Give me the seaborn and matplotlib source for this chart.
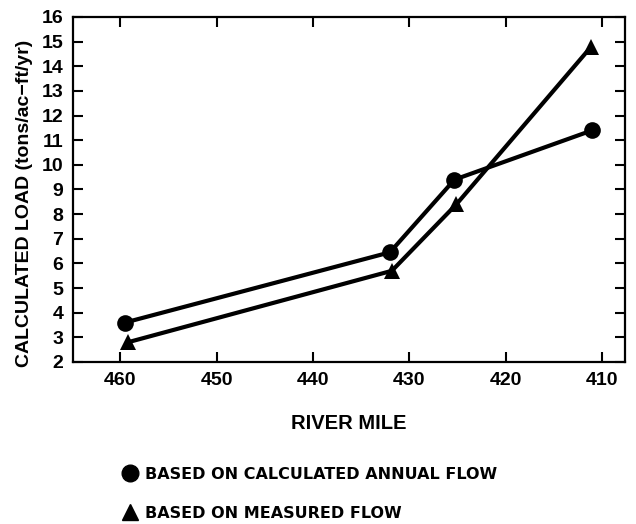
import matplotlib
matplotlib.use("Agg")
import matplotlib.pyplot as plt
from matplotlib.lines import Line2D
import seaborn as sns
import pandas as pd

# data
annual_mile = [459.5, 432.0, 425.3, 411.0]
annual_load = [3.6, 6.45, 9.4, 11.4]
measured_mile = [459.2, 431.8, 425.1, 411.1]
measured_load = [2.8, 5.7, 8.4, 14.8]
series_labels = ["BASED ON CALCULATED ANNUAL FLOW", "BASED ON MEASURED FLOW"]
x_ticks = [460, 450, 440, 430, 420, 410]
y_ticks = list(range(2, 17))

df = pd.DataFrame({
    "mile": annual_mile + measured_mile,
    "load": annual_load + measured_load,
    "series": [series_labels[0]] * len(annual_mile) + [series_labels[1]] * len(measured_mile),
})

sns.set_theme(style="ticks")
plt.rcParams["font.family"] = ["Liberation Sans", "DejaVu Sans"]
plt.rcParams["axes.labelcolor"] = "black"
plt.rcParams["text.color"] = "black"

fig = plt.figure(figsize=(6.36, 5.24), dpi=100)
ax = fig.add_axes([0.1148, 0.3092, 0.8679, 0.6584])

sns.lineplot(data=df, x="mile", y="load", style="series",
             markers={series_labels[0]: "o", series_labels[1]: "^"},
             dashes=False, color="black", linewidth=3, markersize=12,
             markeredgewidth=0, sort=False, legend=False, ax=ax)

ax.set_xlim(464.9, 407.6)
ax.set_ylim(2, 16)
ax.set_xticks(x_ticks)
ax.set_yticks(y_ticks)
ax.tick_params(direction="in", length=7, width=1.5, top=True, right=True,
               labelsize=14, pad=7, colors="black")
for lab in ax.get_xticklabels() + ax.get_yticklabels():
    lab.set_fontweight("bold")
for s in ax.spines.values():
    s.set_linewidth(1.6)
    s.set_color("black")

ax.set_xlabel("RIVER MILE", fontsize=14.5, fontweight="bold", labelpad=18)
ax.set_ylabel("CALCULATED LOAD (tons/ac\u2212ft/yr)", fontsize=14,
              fontweight="bold", labelpad=6, y=0.46)

handles = [Line2D([], [], color="black", marker="o", linestyle="none", markersize=12),
           Line2D([], [], color="black", marker="^", linestyle="none", markersize=12)]
leg = fig.legend(handles, series_labels, loc="upper left",
                 bbox_to_anchor=(0.172, 0.137), bbox_transform=fig.transFigure,
                 frameon=False, handlelength=0.8, handletextpad=0.5,
                 labelspacing=1.5, prop={"family": "DejaVu Sans", "weight": "bold", "size": 11.5})

fig.savefig("out.png", dpi=100)
